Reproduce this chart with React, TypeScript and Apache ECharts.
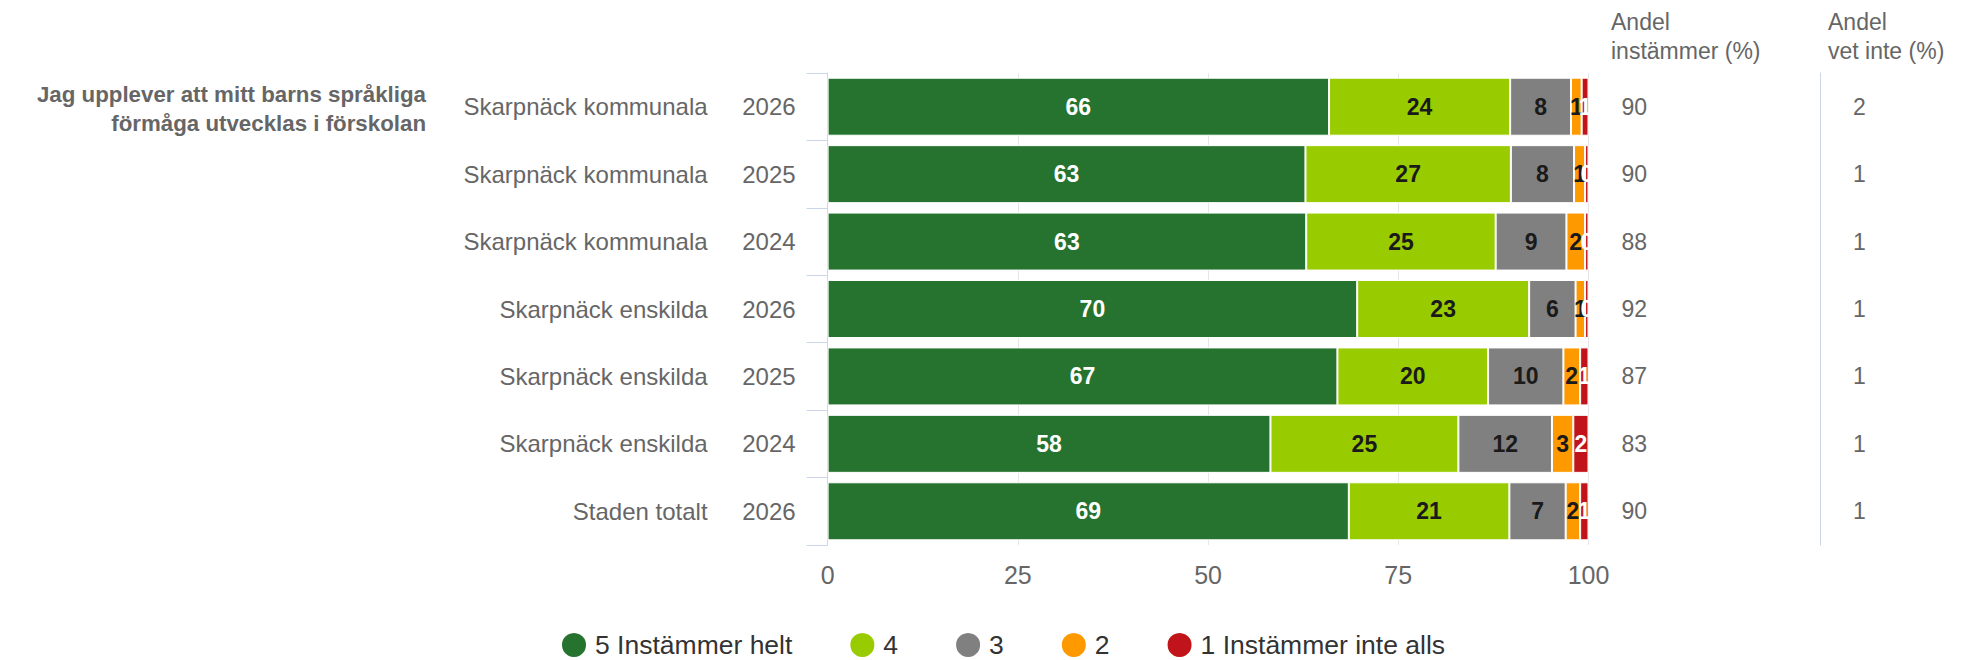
import React, { useEffect, useRef } from "react";
import * as echarts from "echarts";

const FONT = "'Liberation Sans', Arial, Helvetica, sans-serif";

const groupLabel = "Jag upplever att mitt barns språkliga\nförmåga utvecklas i förskolan";
const rowNames = [
  "Skarpnäck kommunala",
  "Skarpnäck kommunala",
  "Skarpnäck kommunala",
  "Skarpnäck enskilda",
  "Skarpnäck enskilda",
  "Skarpnäck enskilda",
  "Staden totalt",
];
const rowYears = ["2026", "2025", "2024", "2026", "2025", "2024", "2026"];

const seriesNames = ["5 Instämmer helt", "4", "3", "2", "1 Instämmer inte alls"];
const seriesColors = ["#267330", "#99cc00", "#808080", "#ff9900", "#c0141a"];
const labelColors = ["#ffffff", "#1a1a1a", "#1a1a1a", "#1a1a1a", "#ffffff"];

const s5 = [65.9, 62.8, 62.9, 69.6, 67.0, 58.2, 68.5];
const s4 = [23.8, 27.0, 24.9, 22.6, 19.8, 24.7, 21.1];
const s3 = [8.0, 8.3, 9.3, 6.1, 9.9, 12.3, 7.4];
const s2 = [1.4, 1.45, 2.45, 1.25, 2.2, 2.8, 1.9];
const s1 = [0.9, 0.45, 0.45, 0.45, 1.1, 2.0, 1.1];
const seriesValues = [s5, s4, s3, s2, s1];

const andelInstammer = ["90", "90", "88", "92", "87", "83", "90"];
const andelVetInte = ["2", "1", "1", "1", "1", "1", "1"];

const xTicks = [0, 25, 50, 75, 100];

const header1 = "Andel\ninstämmer (%)";
const header2 = "Andel\nvet inte (%)";

export default function App() {
  const ref = useRef<HTMLDivElement>(null);
  useEffect(() => {
    document.body.style.margin = "0";
    if (!ref.current) return;
    const chart = echarts.init(ref.current, undefined, { renderer: "svg" });
    const axisLabelBase = { fontFamily: FONT, color: "#666666", fontSize: 24, interval: 0 };
    const legendText = { fontFamily: FONT, fontSize: 26.5, color: "#333333" };
    chart.setOption({
      animation: false,
      backgroundColor: "#ffffff",
      textStyle: { fontFamily: FONT },
      grid: { left: 827.6, right: 383.5, top: 73, bottom: 115, outerBoundsMode: "none" },
      legend: {
        data: seriesNames,
        left: 555,
        top: 626,
        icon: "circle",
        itemWidth: 26,
        itemHeight: 26,
        itemGap: 56,
        formatter: (name: string) => `{l|${name}}`,
        textStyle: {
          ...legendText,
          rich: {
            l: { ...legendText, padding: [0, 0, 0, 3] },
          },
        },
      },
      xAxis: {
        type: "value",
        min: xTicks[0],
        max: xTicks[xTicks.length - 1],
        interval: 25,
        axisLine: { show: false },
        axisTick: { show: false },
        splitLine: { show: true, lineStyle: { color: "#e6e6e6", width: 1 } },
        axisLabel: { ...axisLabelBase, fontSize: 25, margin: 17 },
      },
      yAxis: [
        {
          type: "category",
          data: rowYears,
          inverse: true,
          position: "left",
          axisLine: { show: true, lineStyle: { color: "#ccd6eb", width: 1 } },
          axisTick: { show: true, length: 21, lineStyle: { color: "#ccd6eb", width: 1 } },
          axisLabel: { ...axisLabelBase, margin: 32 },
        },
        {
          type: "category",
          data: rowNames,
          inverse: true,
          position: "left",
          axisLine: { show: false },
          axisTick: { show: false },
          axisLabel: { ...axisLabelBase, margin: 120 },
        },
        {
          type: "category",
          data: andelInstammer,
          inverse: true,
          position: "right",
          axisLine: { show: false },
          axisTick: { show: false },
          axisLabel: { ...axisLabelBase, fontSize: 23, margin: 33, align: "left" },
        },
        {
          type: "category",
          data: andelVetInte,
          inverse: true,
          position: "right",
          offset: 231.5,
          axisLine: { show: true, lineStyle: { color: "#ccd6eb", width: 1 } },
          axisTick: { show: false },
          axisLabel: { ...axisLabelBase, fontSize: 23, margin: 33, align: "left" },
        },
      ],
      series: seriesNames.map((name, i) => ({
        name,
        type: "bar",
        stack: "total",
        yAxisIndex: 0,
        barWidth: 58,
        data: seriesValues[i],
        itemStyle: { color: seriesColors[i], borderColor: "#ffffff", borderWidth: 1 },
        label: {
          show: true,
          position: "inside",
          fontFamily: FONT,
          fontSize: 23,
          fontWeight: "bold",
          color: labelColors[i],
          formatter: (p: any) => String(Math.round(p.value)),
        },
      })),
      graphic: [
        {
          type: "text",
          x: 426,
          y: 109,
          style: {
            text: groupLabel,
            font: `bold 22.3px ${FONT}`,
            fill: "#666666",
            textAlign: "right",
            textVerticalAlign: "middle",
            lineHeight: 29,
          },
        },
        {
          type: "text",
          x: 1611,
          y: 7,
          style: {
            text: header1,
            font: `23px ${FONT}`,
            fill: "#666666",
            textAlign: "left",
            textVerticalAlign: "top",
            lineHeight: 29,
          },
        },
        {
          type: "text",
          x: 1828,
          y: 7,
          style: {
            text: header2,
            font: `23px ${FONT}`,
            fill: "#666666",
            textAlign: "left",
            textVerticalAlign: "top",
            lineHeight: 29,
          },
        },
      ],
    });
    return () => chart.dispose();
  }, []);
  return <div ref={ref} style={{ width: 1972, height: 660 }} />;
}
